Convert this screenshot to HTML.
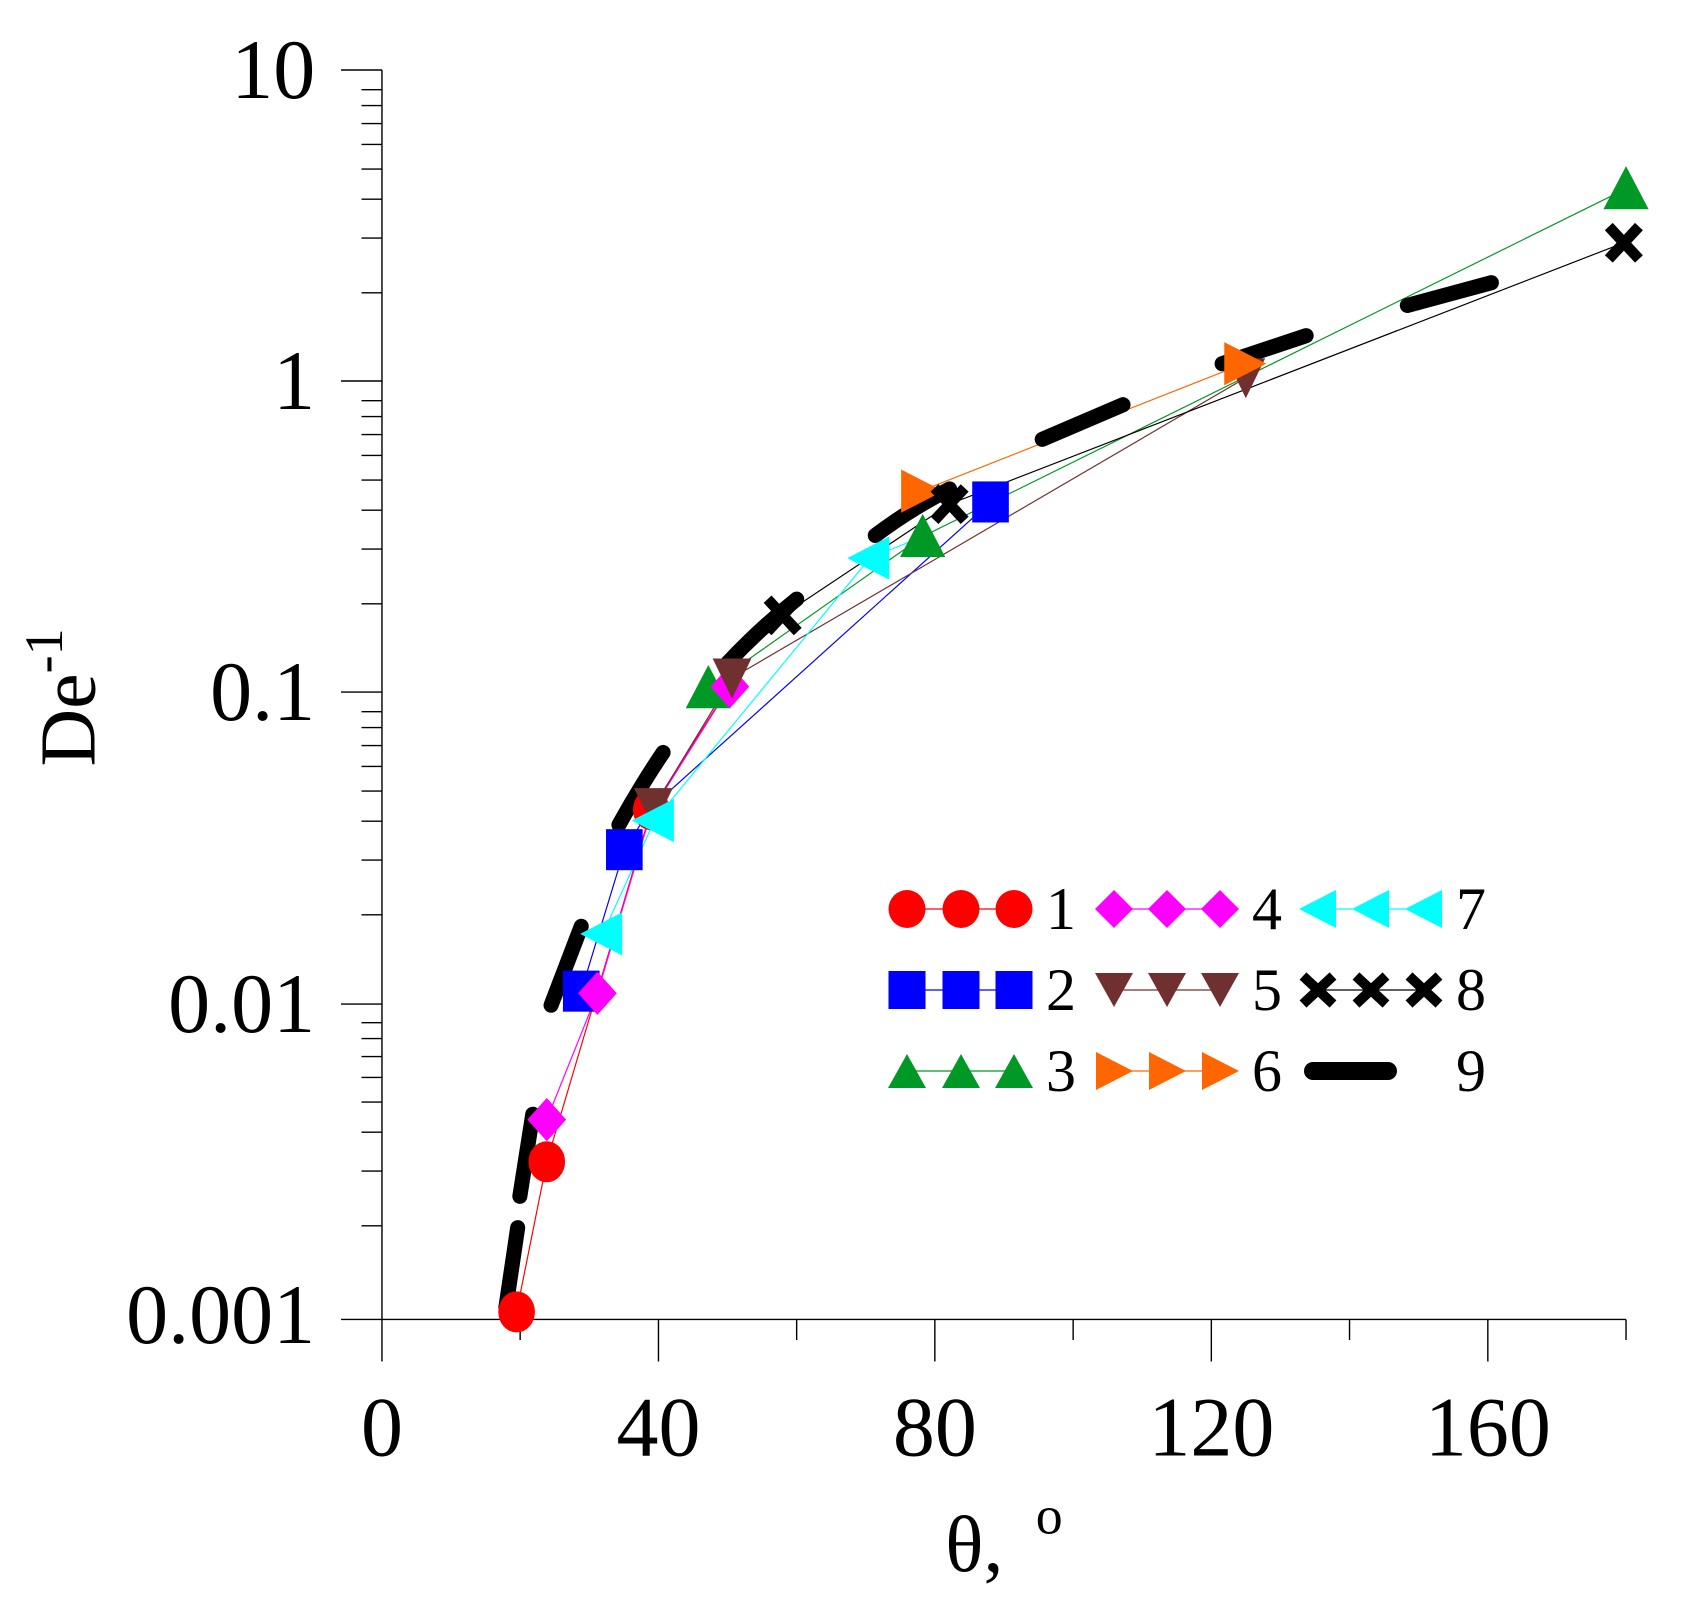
<!DOCTYPE html>
<html><head><meta charset="utf-8"><style>html,body{margin:0;padding:0;background:#fff}svg{display:block}</style></head>
<body>
<svg width="1689" height="1602" viewBox="0 0 1689 1602" xmlns="http://www.w3.org/2000/svg" font-family="'Liberation Serif', serif">
<defs>
<g id="circ"><ellipse cx="0" cy="0" rx="17" ry="19"/></g>
<g id="sq"><rect x="-17" y="-19" width="34" height="38"/></g>
<g id="tu"><polygon points="0,-21 21,19 -21,19"/></g>
<g id="td"><polygon points="0,19 -18,-18 18,-18"/></g>
<g id="tr"><polygon points="21,0 -18,-20 -18,20"/></g>
<g id="tl"><polygon points="-21,0 18,-20 18,20"/></g>
<g id="dm"><polygon points="0,-20 18,0 0,20 -18,0"/></g>
<g id="xx"><path d="M-14,-15 L14,15 M14,-15 L-14,15" stroke="#000" stroke-width="10" fill="none"/></g>
<g id="Lcirc"><ellipse cx="0" cy="0" rx="18.5" ry="19"/></g>
<g id="Lsq"><rect x="-18.5" y="-19" width="37" height="38"/></g>
<g id="Ltu"><polygon points="0,-17 19,17 -19,17"/></g>
<g id="Ltd"><polygon points="0,17 -19,-17 19,-17"/></g>
<g id="Ltr"><polygon points="19,0 -18,-19 -18,19"/></g>
<g id="Ltl"><polygon points="-19,0 18,-19 18,19"/></g>
<g id="Ldm"><polygon points="0,-19 19,0 0,19 -19,0"/></g>
<g id="Lxx"><path d="M-15,-14 L15,14 M15,-14 L-15,14" stroke="#000" stroke-width="10" fill="none"/></g>
</defs>
<g transform="translate(-0.4,-0.2) scale(1.0771,1.0799)">
<g stroke="#000" stroke-width="1.3" fill="none">
<line x1="355" y1="65" x2="355" y2="1222"/>
<line x1="317" y1="1222" x2="1510" y2="1222"/>
<path d="M317,65H355M317,353H355M317,641H355M317,930H355"/>
<path d="
M336,1135.3H355M336,1084.6H355M336,1048.6H355M336,1020.7H355M336,997.9H355M336,978.6H355M336,961.9H355M336,947.2H355
M336,847.3H355M336,796.6H355M336,760.6H355M336,732.7H355M336,709.9H355M336,690.6H355M336,673.9H355M336,659.2H355
M336,559.3H355M336,508.6H355M336,472.6H355M336,444.7H355M336,421.9H355M336,402.6H355M336,385.9H355M336,371.2H355
M336,271.3H355M336,220.6H355M336,184.6H355M336,156.7H355M336,133.9H355M336,114.6H355M336,97.9H355M336,83.2H355"/>
<path d="M355,1222V1261M611.7,1222V1261M868.3,1222V1261M1125,1222V1261M1381.7,1222V1261"/>
<path d="M483.3,1222V1241M740,1222V1241M996.7,1222V1241M1253.3,1222V1241M1510,1222V1241"/>
</g>
<g font-size="78" fill="#000" text-anchor="end">
<text x="293" y="91">10</text>
<text x="293" y="379">1</text>
<text x="293" y="667">0.1</text>
<text x="293" y="956">0.01</text>
<text x="293" y="1244">0.001</text>
</g>
<g font-size="78" fill="#000" text-anchor="middle">
<text x="355" y="1348">0</text>
<text x="611.7" y="1348">40</text>
<text x="868.3" y="1348">80</text>
<text x="1125" y="1348">120</text>
<text x="1381.7" y="1348">160</text>
</g>
<text x="878" y="1455" font-size="74" fill="#000">θ,</text>
<text x="962" y="1420" font-size="50" fill="#000">o</text>
<text transform="translate(88,710) rotate(-90)" font-size="74" fill="#000">De<tspan font-size="50" dy="-30">-1</tspan></text>

<g fill="none" stroke-width="1.1">
<polyline stroke="#ff0000" points="480,1215 508,1076 605,750 680,632"/>
<polyline stroke="#0000ff" points="540,918 580,787 605,748 920,465"/>
<polyline stroke="#009926" points="658,637 857,497 1510,175"/>
<polyline stroke="#ff00ff" points="508,1037 555,920 605,752 678,636"/>
<polyline stroke="#703030" points="607,748 680,628 1157,350"/>
<polyline stroke="#ff6600" points="855,455 1155,337"/>
<polyline stroke="#00ffff" points="560,865 608,760 808,517 857,497"/>
<polyline stroke="#000" points="727,570 882,467 1508,225"/>
</g>
<g fill="none" stroke="#000" stroke-width="14" stroke-linecap="round">
<path d="M470,1211 L481,1137"/>
<path d="M483,1108 L495,1032"/>
<path d="M512,931 L540,858"/>
<path d="M575,764 Q595,728 616,697"/>
<path d="M675,615 Q705,583 740,555"/>
<path d="M813,496 Q845,472 882,453"/>
<path d="M968,407 L1043,375"/>
<path d="M1135,337 L1213,311"/>
<path d="M1307,283 L1385,262"/>
</g>
<g fill="#ff0000"><use href="#circ" x="480" y="1215"/><use href="#circ" x="508" y="1076"/><use href="#circ" x="605" y="750"/></g>
<g fill="#0000ff"><use href="#sq" x="540" y="918"/><use href="#sq" x="580" y="787"/><use href="#sq" x="920" y="465"/></g>
<g fill="#009926"><use href="#tu" x="658" y="637"/><use href="#tu" x="857" y="497"/><use href="#tu" x="1510" y="175"/></g>
<g fill="#ff00ff"><use href="#dm" x="508" y="1037"/><use href="#dm" x="555" y="920"/><use href="#dm" x="678" y="636"/></g>
<g fill="#703030"><use href="#td" x="607" y="748"/><use href="#td" x="680" y="628"/><use href="#td" x="1157" y="350"/></g>
<g fill="#ff6600"><use href="#tr" x="855" y="455"/><use href="#tr" x="1155" y="337"/></g>
<g fill="#00ffff"><use href="#tl" x="560" y="865"/><use href="#tl" x="608" y="760"/><use href="#tl" x="808" y="517"/></g>
<g><use href="#xx" x="727" y="570"/><use href="#xx" x="882" y="467"/><use href="#xx" x="1508" y="225"/></g>
</g>

<!-- legend -->
<g stroke-width="1.3">
<line x1="907" y1="909" x2="1014" y2="909" stroke="#ff0000"/>
<line x1="907" y1="990" x2="1014" y2="990" stroke="#0000ff"/>
<line x1="907" y1="1071" x2="1014" y2="1071" stroke="#009926"/>
<line x1="1114" y1="909" x2="1220" y2="909" stroke="#ff00ff"/>
<line x1="1114" y1="990" x2="1220" y2="990" stroke="#703030"/>
<line x1="1114" y1="1071" x2="1220" y2="1071" stroke="#ff6600"/>
<line x1="1318" y1="909" x2="1424" y2="909" stroke="#00ffff"/>
<line x1="1318" y1="990" x2="1424" y2="990" stroke="#000"/>
</g>
<g fill="#ff0000"><use href="#Lcirc" x="907" y="909"/><use href="#Lcirc" x="961" y="909"/><use href="#Lcirc" x="1014" y="909"/></g>
<g fill="#0000ff"><use href="#Lsq" x="907" y="990"/><use href="#Lsq" x="961" y="990"/><use href="#Lsq" x="1014" y="990"/></g>
<g fill="#009926"><use href="#Ltu" x="907" y="1071"/><use href="#Ltu" x="961" y="1071"/><use href="#Ltu" x="1014" y="1071"/></g>
<g fill="#ff00ff"><use href="#Ldm" x="1114" y="909"/><use href="#Ldm" x="1167" y="909"/><use href="#Ldm" x="1220" y="909"/></g>
<g fill="#703030"><use href="#Ltd" x="1114" y="990"/><use href="#Ltd" x="1167" y="990"/><use href="#Ltd" x="1220" y="990"/></g>
<g fill="#ff6600"><use href="#Ltr" x="1114" y="1071"/><use href="#Ltr" x="1167" y="1071"/><use href="#Ltr" x="1220" y="1071"/></g>
<g fill="#00ffff"><use href="#Ltl" x="1318" y="909"/><use href="#Ltl" x="1371" y="909"/><use href="#Ltl" x="1424" y="909"/></g>
<g><use href="#Lxx" x="1318" y="990"/><use href="#Lxx" x="1371" y="990"/><use href="#Lxx" x="1424" y="990"/></g>
<line x1="1313" y1="1071" x2="1388" y2="1071" stroke="#000" stroke-width="18" stroke-linecap="round"/>
<g font-size="60" fill="#000">
<text x="1046" y="929">1</text><text x="1046" y="1010">2</text><text x="1046" y="1091">3</text>
<text x="1252" y="929">4</text><text x="1252" y="1010">5</text><text x="1252" y="1091">6</text>
<text x="1456" y="929">7</text><text x="1456" y="1010">8</text><text x="1456" y="1091">9</text>
</g>
</svg>
</body></html>
